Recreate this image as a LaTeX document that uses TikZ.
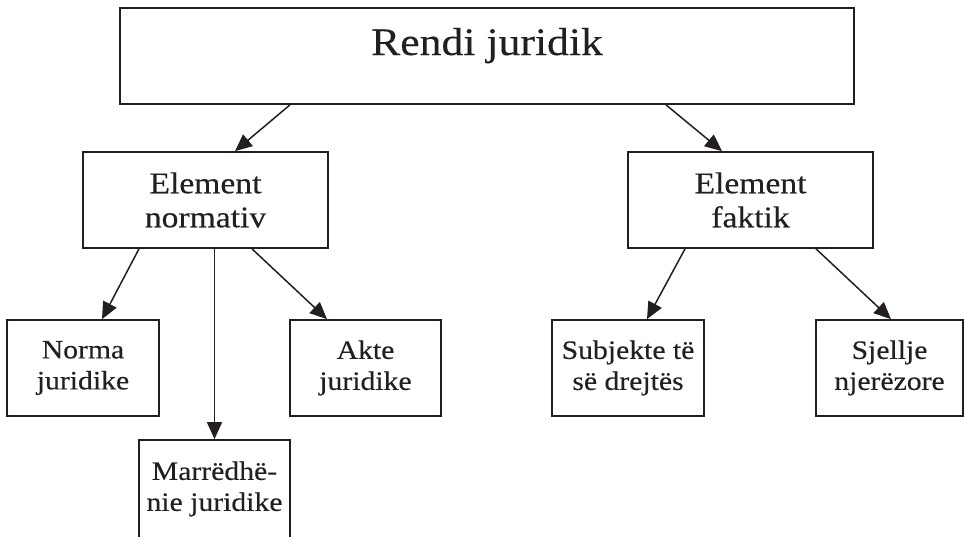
\documentclass[tikz,border=0pt]{standalone}
\usepackage{fontspec}
\setmainfont{Liberation Serif}[FakeStretch=1.12,FakeBold=0.3]
\usetikzlibrary{arrows.meta}
\definecolor{ink}{HTML}{231F20}
\begin{document}
\begin{tikzpicture}[x=1pt,y=-1pt,
  box/.style={draw=ink, line width=1.7pt, rectangle, inner sep=0pt,
    minimum height=96pt, align=center, text=ink},
  mid/.style={box, font=\fontsize{30}{34}\selectfont},
  low/.style={box, font=\fontsize{26.5}{31}\selectfont},
  link/.style={draw=ink, line width=1.5pt, -{Triangle[length=17pt,width=15pt]}}]
\useasboundingbox (0,0) rectangle (966,536);
\begin{scope}
\clip (0,0) rectangle (966,536);
% top level
\node[box, minimum width=734pt] (top) at (487,56) {};
\node[anchor=base, text=ink, font=\fontsize{39}{44}\selectfont] (toptext) at (487,55) {Rendi juridik};
% second level
\node[mid, minimum width=245pt] (en) at (205.5,200) {Element\\normativ};
\node[mid, minimum width=245pt] (ef) at (750.5,200) {Element\\faktik};
% third level
\node[low, minimum width=152pt] (nj) at (83,368) {Norma\\juridike};
\node[low, minimum width=151pt] (aj) at (365.5,368) {Akte\\juridike};
\node[low, minimum width=151pt, minimum height=98pt] (mj) at (214.5,489) {Marrëdhë-\\nie juridike};
\node[low, minimum width=152pt] (sd) at (628,368) {Subjekte të\\së drejtës};
\node[low, minimum width=147pt] (sn) at (889.5,368) {Sjellje\\njerëzore};
% connectors
\draw[link] ([xshift=-197pt]top.south) -- ([xshift=29.5pt]en.north);
\draw[link] ([xshift=179pt]top.south) -- ([xshift=-28.5pt]ef.north);
\draw[link] ([xshift=-66.5pt]en.south) -- ([xshift=19pt]nj.north);
\draw[link] (mj.north |- en.south) -- (mj.north);
\draw[link] ([xshift=46.5pt]en.south) -- ([xshift=-38.5pt]aj.north);
\draw[link] ([xshift=-65.5pt]ef.south) -- ([xshift=19pt]sd.north);
\draw[link] ([xshift=65.5pt]ef.south) -- ([xshift=1.5pt]sn.north);
\end{scope}
\end{tikzpicture}
\end{document}
